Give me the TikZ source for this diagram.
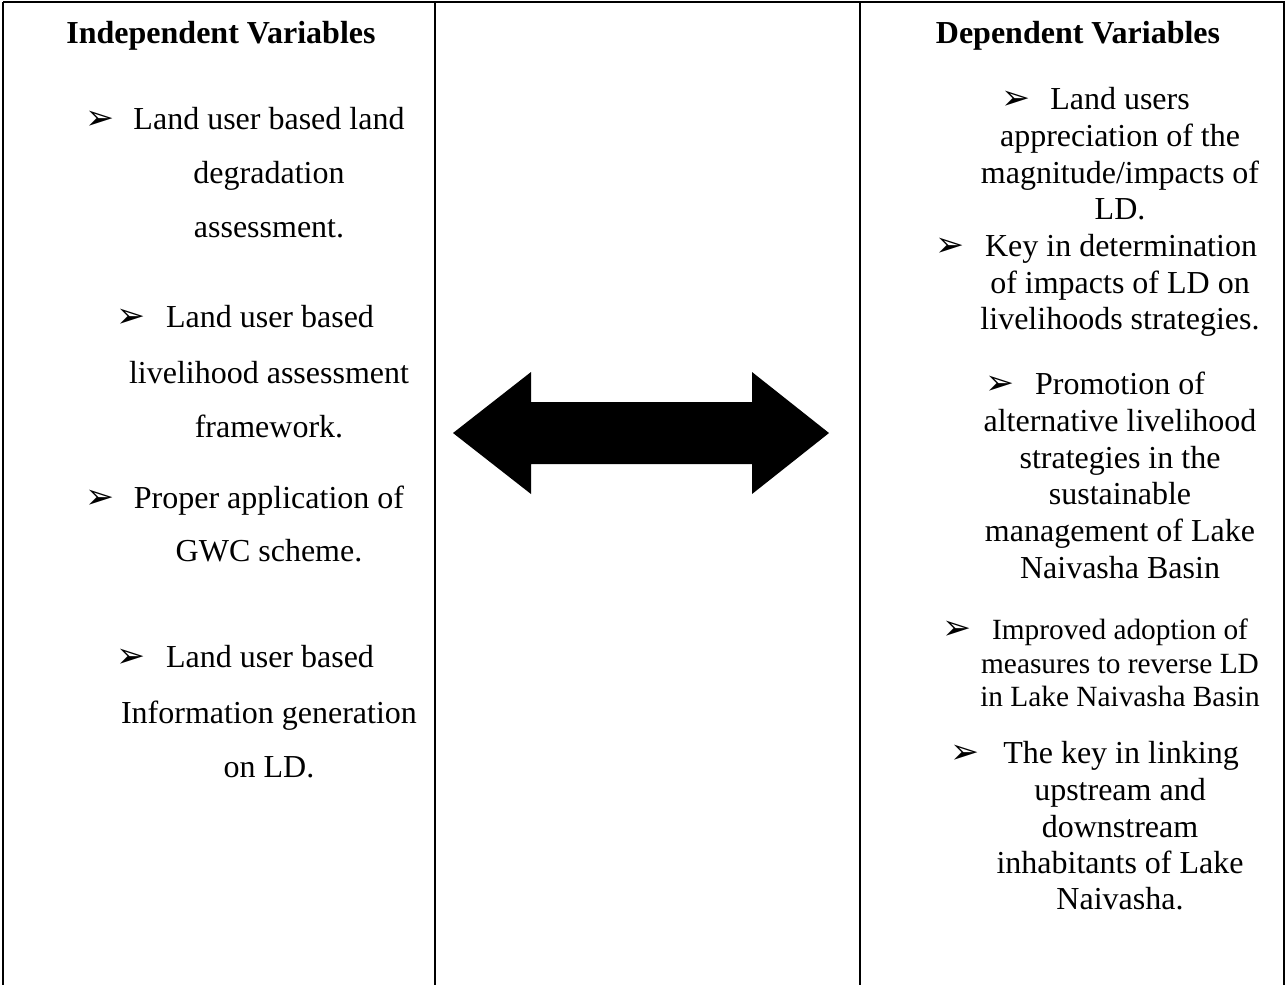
\documentclass[tikz,border=0pt]{standalone}
\usepackage{fontspec}
\setmainfont{Liberation Serif}
\newfontfamily\bulletfont{DejaVu Sans}
\begin{document}
\begin{tikzpicture}[x=0.375pt,y=-0.375pt,
  txt/.style={font=\fontsize{12}{14}\selectfont, anchor=mid, inner sep=0pt},
  smalltxt/.style={font=\fontsize{11}{13}\selectfont, anchor=mid, inner sep=0pt},
  hdr/.style={font=\bfseries\fontsize{12}{14}\selectfont, anchor=mid, inner sep=0pt},
  blt/.style={font=\bulletfont\fontsize{13}{15}\selectfont, anchor=mid, inner sep=0pt},
  rule/.style={line width=0.75pt, black}]
\useasboundingbox (0,0) rectangle (1285,985);
% table lines
\coordinate (tl) at (3,2);
\coordinate (tr) at (1285,2);
\coordinate (bl) at (3,985);
\coordinate (m1t) at (435,2);
\coordinate (m1b) at (435,985);
\coordinate (m2t) at (860,2);
\coordinate (m2b) at (860,985);
\coordinate (rt) at (1284,2);
\coordinate (rb) at (1284,985);
\draw[rule] (tl) -- (tr);
\draw[rule] (tl) -- (bl);
\draw[rule] (m1t) -- (m1b);
\draw[rule] (m2t) -- (m2b);
\draw[rule] (rt) -- (rb);
\begin{scope}[yshift=-5*0.375pt]
% headers
\node[hdr] (h1) at (221,32) {Independent Variables};
\node[hdr] (h2) at (1078,32) {Dependent Variables};
% left column
\node[blt] (lb1) at (100,118) {➢};
\node[txt] (l1a) at (269,118) {Land user based land};
\node[txt] (l1b) at (269,172) {degradation};
\node[txt] (l1c) at (269,226) {assessment.};
\node[blt] (lb2) at (131,316) {➢};
\node[txt] (l2a) at (270,316) {Land user based};
\node[txt] (l2b) at (269,372) {livelihood assessment};
\node[txt] (l2c) at (269,426) {framework.};
\node[blt] (lb3) at (100,497) {➢};
\node[txt] (l3a) at (269,497) {Proper application of};
\node[txt] (l3b) at (269,550) {GWC scheme.};
\node[blt] (lb4) at (131,656) {➢};
\node[txt] (l4a) at (270,656) {Land user based};
\node[txt] (l4b) at (269,712) {Information generation};
\node[txt] (l4c) at (269,766) {on LD.};
% right column
\node[blt] (rb1) at (1016,98) {➢};
\node[txt] (r1a) at (1120,98) {Land users};
\node[txt] (r1b) at (1120,135) {appreciation of the};
\node[txt] (r1c) at (1120,172) {magnitude/impacts of};
\node[txt] (r1d) at (1120,208) {LD.};
\node[blt] (rb2) at (950,245) {➢};
\node[txt] (r2a) at (1121,245) {Key in determination};
\node[txt] (r2b) at (1120,282) {of impacts of LD on};
\node[txt] (r2c) at (1120,318) {livelihoods strategies.};
\node[blt] (rb3) at (1000,383) {➢};
\node[txt] (r3a) at (1120,383) {Promotion of};
\node[txt] (r3b) at (1120,420) {alternative livelihood};
\node[txt] (r3c) at (1120,457) {strategies in the};
\node[txt] (r3d) at (1120,493) {sustainable};
\node[txt] (r3e) at (1120,530) {management of Lake};
\node[txt] (r3f) at (1120,567) {Naivasha Basin};
\node[blt] (rb4) at (957,628) {➢};
\node[smalltxt] (r4a) at (1120,628) {Improved adoption of};
\node[smalltxt] (r4b) at (1120,662) {measures to reverse LD};
\node[smalltxt] (r4c) at (1120,695) {in Lake Naivasha Basin};
\node[blt] (rb5) at (965,752) {➢};
\node[txt] (r5a) at (1121,752) {The key in linking};
\node[txt] (r5b) at (1120,789) {upstream and};
\node[txt] (r5c) at (1120,826) {downstream};
\node[txt] (r5d) at (1120,862) {inhabitants of Lake};
\node[txt] (r5e) at (1120,898) {Naivasha.};
\end{scope}
% arrow
\fill[black] (453,433) -- (531,372) -- (531,402) -- (752,402) -- (752,372)
  -- (829,433) -- (752,494) -- (752,464) -- (531,464) -- (531,494) -- cycle;
\end{tikzpicture}
\end{document}
